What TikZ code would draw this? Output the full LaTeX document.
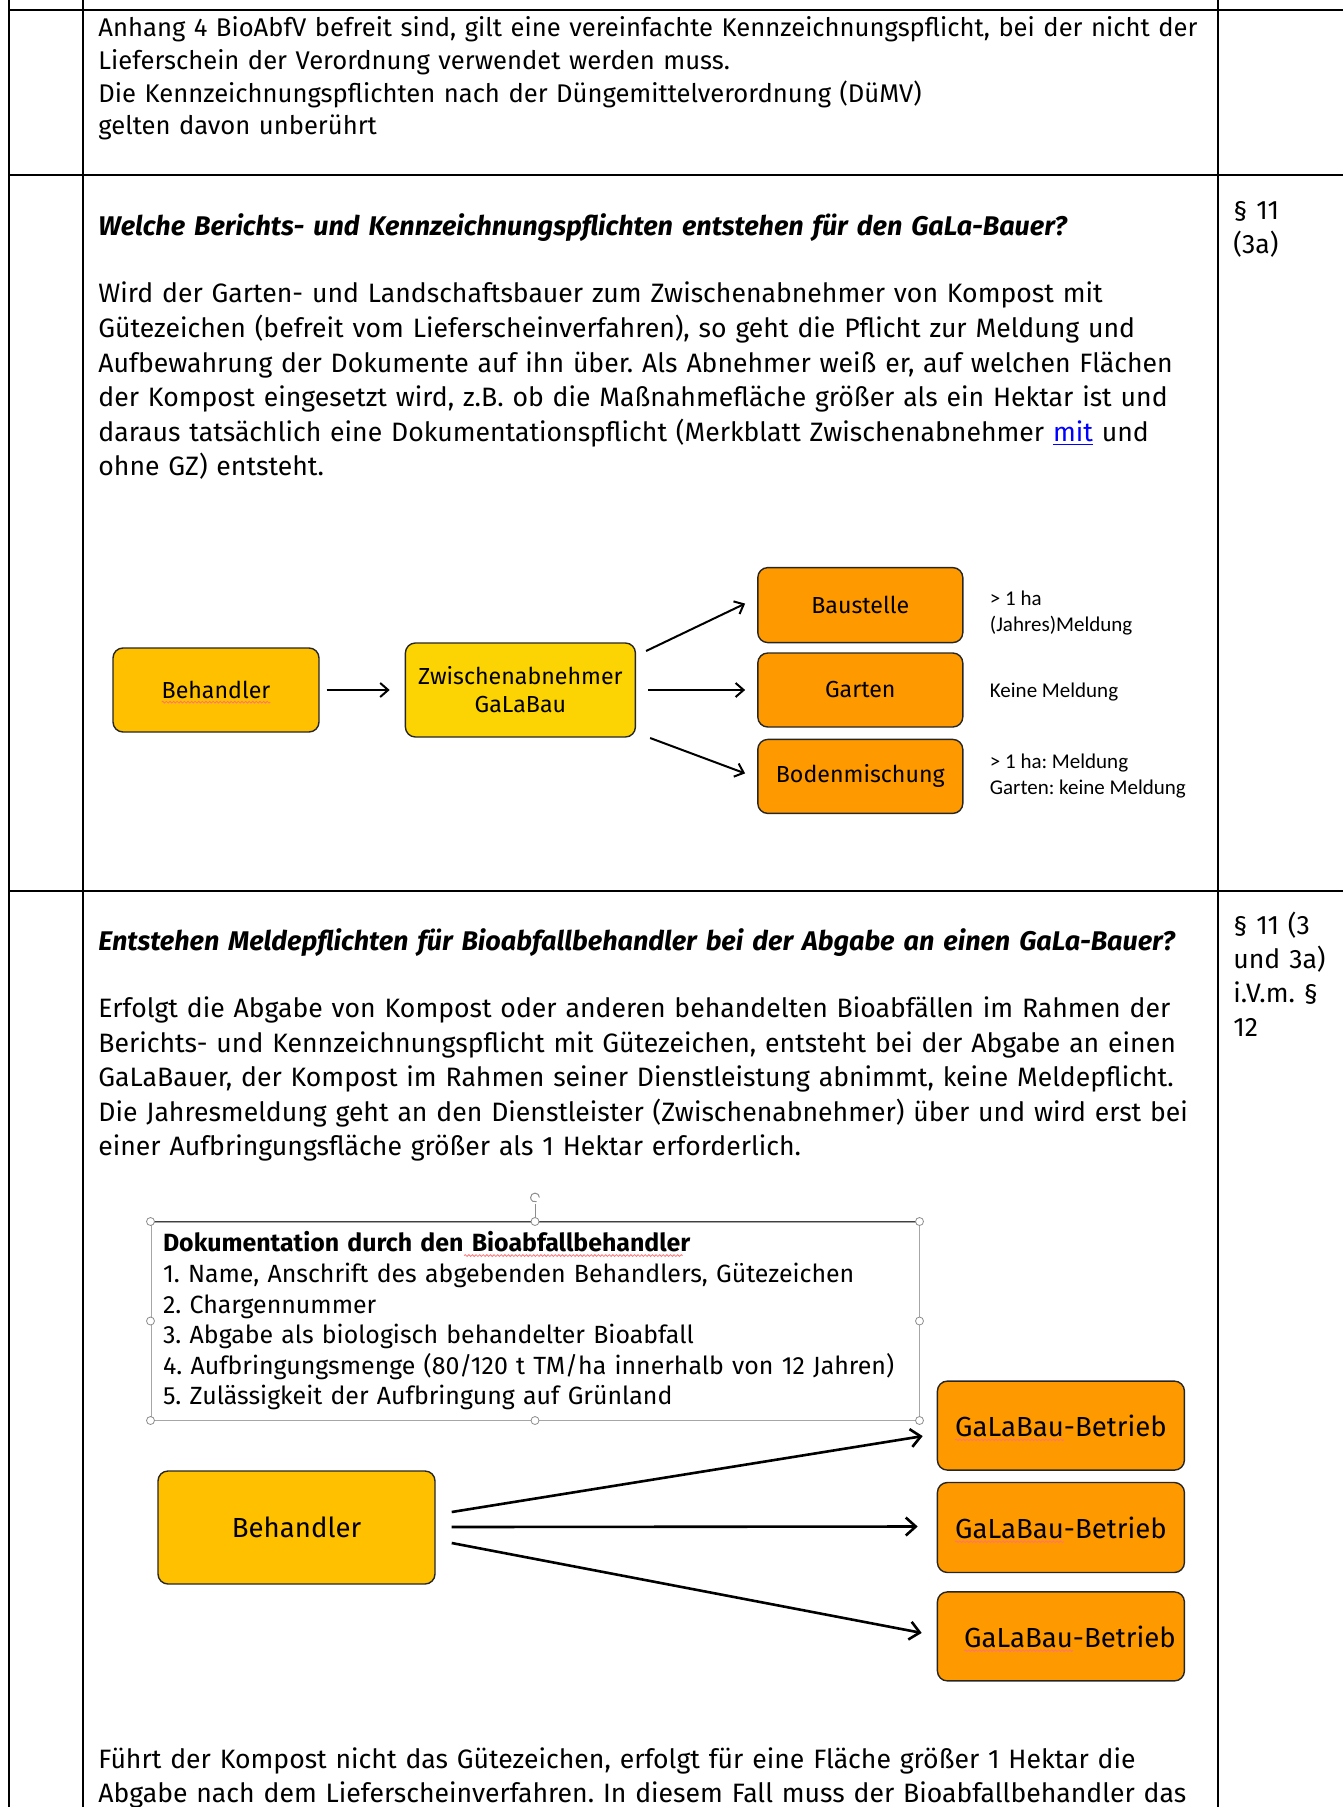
\documentclass[tikz,border=0pt]{standalone}
\usepackage{fontspec}
\setmainfont{Fira Sans}
\newfontfamily\calfont{Carlito}
\usepackage{tikz}
\usetikzlibrary{arrows.meta,positioning,calc,decorations.pathmorphing}
\definecolor{behcol}{HTML}{FFC000}
\definecolor{zwcol}{HTML}{FCD404}
\definecolor{orcol}{HTML}{FF9900}
\definecolor{linkcol}{HTML}{0000FF}
\newlength\wbeh
\newlength\wgb
\newlength\wgala
\newlength\wpre
\newlength\wbio
\newcommand{\dfont}{\fontsize{11.6}{14}\selectfont}
\newcommand{\gfont}{\fontsize{13.8}{17}\selectfont}
\newcommand{\kfont}{\fontsize{12.45}{15.3}\selectfont}
\frenchspacing
\AtBeginDocument{%
  \settowidth\wbeh{\dfont Behandler}%
  \settowidth\wgb{\gfont GaLaBau-Betrieb}%
  \settowidth\wgala{\gfont GaLaBau}%
  \settowidth\wpre{\kfont\bfseries Dokumentation durch den\ }%
  \settowidth\wbio{\kfont\bfseries Bioabfallbehandler}}

\begin{document}
\begin{tikzpicture}[x=0.5pt,y=-0.5pt,
  tab/.style={line width=1pt,black},
  para/.style={inner sep=0pt,anchor=base west,text width=580pt,align=left,font=\fontsize{13.3}{17.3}\selectfont},
  head/.style={para,font=\fontsize{13.5}{17.3}\selectfont\bfseries\itshape},
  side/.style={inner sep=0pt,anchor=base west,text width=60pt,align=left,font=\fontsize{13.3}{17}\selectfont},
  box/.style={draw=black!85,line width=0.7pt,rounded corners=5pt,inner sep=0pt,align=center},
  note/.style={inner sep=0pt,align=left,font=\calfont\fontsize{10.5}{13}\selectfont},
  doku/.style={draw=black!35,line width=0.5pt,minimum width=384pt,minimum height=99pt,inner xsep=6pt,inner ysep=0pt,text width=372pt,align=left,font=\kfont},
  handle/.style={circle,draw=black!45,fill=white,line width=0.4pt,inner sep=0pt,minimum size=4pt},
  arr/.style={-{Straight Barb[length=4pt,width=7pt]},line width=1pt},
  arrb/.style={-{Straight Barb[length=5pt,width=9pt]},line width=1.3pt},
  squig/.style={red!55,line width=0.4pt,decorate,decoration={snake,amplitude=0.45pt,segment length=1.8pt}}]
\useasboundingbox (0,0) rectangle (1343,1807);

% table rules
\draw[tab] (9,0) -- (9,1807);
\draw[tab] (83,0) -- (83,1807);
\draw[tab] (1218,0) -- (1218,1807);
\draw[tab] (9,10) -- (1343,10);
\draw[tab] (9,175) -- (1343,175);
\draw[tab] (9,891) -- (1343,891);

% first row
\node[para,font=\fontsize{12.8}{16.3}\selectfont] (t1) at (98,37) {Anhang 4 BioAbfV befreit sind, gilt eine vereinfachte Kennzeichnungspflicht, bei der nicht der\\Lieferschein der Verordnung verwendet werden muss.\\Die Kennzeichnungspflichten nach der Düngemittelverordnung (DüMV)\\gelten davon unberührt};

% second row
\node[head] (h2) at (98,236) {Welche Berichts- und Kennzeichnungspflichten entstehen für den GaLa-Bauer?};
\node[para] (b2) at (98,303) {Wird der Garten- und Landschaftsbauer zum Zwischenabnehmer von Kompost mit\\Gütezeichen (befreit vom Lieferscheinverfahren), so geht die Pflicht zur Meldung und\\Aufbewahrung der Dokumente auf ihn über. Als Abnehmer weiß er, auf welchen Flächen\\der Kompost eingesetzt wird, z.B. ob die Maßnahmefläche größer als ein Hektar ist und\\daraus tatsächlich eine Dokumentationspflicht (Merkblatt Zwischenabnehmer \textcolor{linkcol}{\underline{mit}} und\\ohne GZ) entsteht.};
\node[side] (r2) at (1233,220) {§ 11\\(3a)};

\node[box,fill=behcol,minimum width=103pt,minimum height=42pt,font=\dfont] (beh1) at (216,690) {Behandler};
\node[box,fill=zwcol,minimum width=115pt,minimum height=47pt,font=\dfont,right=42.5pt of beh1] (zw) {Zwischenabnehmer\\GaLaBau};
\node[box,fill=orcol,minimum width=102.5pt,minimum height=37pt,font=\dfont,right=60.5pt of zw] (garten) {Garten};
\node[box,fill=orcol,minimum width=102.5pt,minimum height=37.5pt,font=\dfont,above=4.5pt of garten] (baust) {Baustelle};
\node[box,fill=orcol,minimum width=102.5pt,minimum height=37pt,font=\dfont,below=5.5pt of garten] (boden) {Bodenmischung};
\node[note,right=13pt of baust,yshift=-3.75pt] (nbaust) {> 1 ha\\(Jahres)Meldung};
\node[note,right=13pt of garten,yshift=-1pt] (ngarten) {Keine Meldung};
\node[note,right=13pt of boden] (nboden) {> 1 ha: Meldung\\Garten: keine Meldung};
\draw[squig] ([xshift=-0.5\wbeh,yshift=-1.8pt]beh1.base) -- ++(\wbeh,0pt);
\draw[arr,shorten <=3.5pt,shorten >=7.5pt] (beh1) -- (zw);
\draw[arr] ($(zw.east)+(10,-39)$) -- ($(baust.west)+(-12,-1.5)$);
\draw[arr,shorten <=6pt,shorten >=6pt] (zw) -- (garten);
\draw[arr] ($(zw.east)+(14,48)$) -- ($(boden.west)+(-12,-3)$);

% third row
\node[head] (h3) at (98,950) {Entstehen Meldepflichten für Bioabfallbehandler bei der Abgabe an einen GaLa-Bauer?};
\node[para] (b3) at (98,1017.5) {Erfolgt die Abgabe von Kompost oder anderen behandelten Bioabfällen im Rahmen der\\Berichts- und Kennzeichnungspflicht mit Gütezeichen, entsteht bei der Abgabe an einen\\GaLaBauer, der Kompost im Rahmen seiner Dienstleistung abnimmt, keine Meldepflicht.\\Die Jahresmeldung geht an den Dienstleister (Zwischenabnehmer) über und wird erst bei\\einer Aufbringungsfläche größer als 1 Hektar erforderlich.};
\node[side] (r3) at (1233,934) {§ 11 (3\\und 3a)\\i.V.m. §\\12};

\node[doku] (doku) at (535,1321) {\textbf{Dokumentation durch den Bioabfallbehandler}\\1. Name, Anschrift des abgebenden Behandlers, Gütezeichen\\2. Chargennummer\\3. Abgabe als biologisch behandelter Bioabfall\\4. Aufbringungsmenge (80/120 t TM/ha innerhalb von 12 Jahren)\\5. Zulässigkeit der Aufbringung auf Grünland};
\draw[black!75,line width=0.6pt] (doku.north west) -- (doku.north east);
\draw[squig] ([xshift=6pt+\wpre,yshift=-1.8pt]doku.base west) -- ++(\wbio,0pt);
\draw[black!45,line width=0.4pt] (doku.north) -- ([yshift=9pt]doku.north);
\draw[black!45,line width=0.5pt] ([xshift=2.2pt,yshift=12pt]doku.north) arc[start angle=0,end angle=290,radius=2.2pt];
\foreach \a in {north west,north,north east,east,south east,south,south west,west}
  \node[handle] at (doku.\a) {};

\node[box,fill=behcol,minimum width=138.5pt,minimum height=56.5pt,font=\gfont] (beh2) at (296.5,1527.5) {Behandler};
\node[box,fill=orcol,minimum width=123.5pt,minimum height=45pt,font=\gfont,right=250.5pt of beh2] (gb2) {GaLaBau-Betrieb};
\node[box,fill=orcol,minimum width=123.5pt,minimum height=44.5pt,font=\gfont,above=5.5pt of gb2] (gb1) {GaLaBau-Betrieb};
\node[box,fill=orcol,minimum width=123.5pt,minimum height=44.5pt,font=\gfont,below=9pt of gb2] (gb3) {\hspace*{9pt}GaLaBau-Betrieb};
\draw[squig] ([xshift=-0.5\wgb,yshift=-1.8pt]gb1.base) -- ++(\wgala,0pt);
\draw[squig] ([xshift=-0.5\wgb,yshift=-1.8pt]gb2.base) -- ++(\wgala,0pt);
\draw[squig] ([xshift=-0.5\wgb+4.5pt,yshift=-1.8pt]gb3.base) -- ++(\wgala,0pt);
\draw[arrb] ($(beh2.east)+(16,-15.5)$) -- ($(gb1.west)+(-14,10.5)$);
\draw[arrb] ($(beh2.east)+(16,-0.5)$) -- ($(gb2.west)+(-19,-1)$);
\draw[arrb] ($(beh2.east)+(16,15.5)$) -- ($(gb3.west)+(-15,-3.5)$);

% last row text
\node[para] (b4) at (98,1768) {Führt der Kompost nicht das Gütezeichen, erfolgt für eine Fläche größer 1 Hektar die\\Abgabe nach dem Lieferscheinverfahren. In diesem Fall muss der Bioabfallbehandler das};
\end{tikzpicture}
\end{document}
